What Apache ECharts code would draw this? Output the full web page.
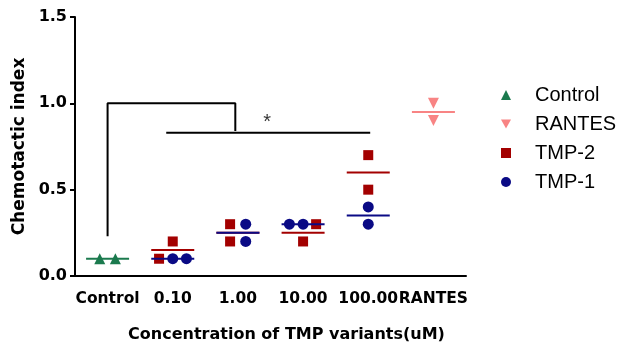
<!DOCTYPE html>
<html>
<head>
<meta charset="utf-8">
<script src="https://cdn.jsdelivr.net/npm/echarts@6/dist/echarts.min.js"></script>
<style>
  html, body { margin: 0; padding: 0; background: #fff; }
  #chart { width: 619px; height: 350px; }
</style>
</head>
<body>
<div id="chart"></div>
<script>
// categories on the x axis
const categories = ["Control", "0.10", "1.00", "10.00", "100.00", "RANTES"]

// points as [category position (with small jitter), chemotactic index]
const controlPoints = [[-0.12, 0.1], [0.12, 0.1]]
const rantesPoints = [[5, 1.0], [5, 0.9]]
const tmp2Points = [[0.79, 0.1], [1, 0.2], [1.88, 0.3], [1.88, 0.2], [3.2, 0.3], [3, 0.2], [4, 0.7], [4, 0.5]]
const tmp1Points = [[1, 0.1], [1.21, 0.1], [2.12, 0.3], [2.12, 0.2], [2.79, 0.3], [3, 0.3], [4, 0.4], [4, 0.3]]

// significance bracket (Control vs 1.00) and bar (0.10 .. 100.00)
const bracketPath = [[0, 0.23], [0, 1.0], [1.96, 1.0], [1.96, 0.84]]
const barPath = [[0.9, 0.83], [4.03, 0.83]]
const starPoint = [[2.45, 0.89]]

const yTicks = [0, 0.5, 1.0, 1.5]

const colors = {
  control: "#1b7a4e",
  rantes: "#f88484",
  tmp2: "#a30000",
  tmp1: "#0a0a85",
}

const chart = echarts.init(document.getElementById("chart"))

// group mean per category
function means(points) {
  const groups = {}
  points.forEach(([x, y]) => {
    const k = Math.round(x)
    if (!groups[k]) groups[k] = []
    groups[k].push(y)
  })
  return Object.keys(groups).map((k) => {
    const vals = groups[k]
    return [Number(k), vals.reduce((a, b) => a + b, 0) / vals.length]
  })
}

const half = 0.33
function meanLine(params, api) {
  const x = api.value(0)
  const y = api.value(1)
  const a = api.coord([x - half, y])
  const b = api.coord([x + half, y])
  return {
    type: "line",
    shape: { x1: a[0], y1: a[1], x2: b[0], y2: b[1] },
    style: { stroke: api.visual("color"), lineWidth: 2 },
  }
}

const downTriangle = "path://M0,0 L10,0 L5,9 Z"
const font = "Liberation Sans, Arial, sans-serif"
const boldFont = "DejaVu Sans, sans-serif"

function scatter(name, data, symbol, color, size) {
  return {
    name: name,
    type: "scatter",
    xAxisIndex: 1,
    data: data,
    symbol: symbol,
    symbolSize: size,
    itemStyle: { color: color, opacity: 1 },
    z: 3,
  }
}

function meanSeries(name, data, color) {
  return {
    name: name,
    type: "custom",
    xAxisIndex: 1,
    data: means(data),
    renderItem: meanLine,
    itemStyle: { color: color },
    encode: { x: 0, y: 1 },
    z: 4,
  }
}

function blackLine(data) {
  return {
    type: "line",
    xAxisIndex: 1,
    data: data,
    symbol: "none",
    lineStyle: { color: "#000", width: 2 },
    silent: true,
    z: 2,
  }
}

const option = {
  backgroundColor: "#fff",
  animation: false,
  textStyle: { fontFamily: font },
  grid: { left: 75, right: 153, top: 17, bottom: 74 },
  legend: {
    data: ["Control", "RANTES", "TMP-2", "TMP-1"],
    orient: "vertical",
    left: 496,
    top: 80,
    itemWidth: 10,
    itemHeight: 10,
    itemGap: 9,
    textStyle: { fontSize: 20, color: "#000", fontFamily: font, padding: [0, 0, 0, 19] },
  },
  xAxis: [
    {
      type: "category",
      data: categories,
      boundaryGap: true,
      axisLine: { onZero: false, lineStyle: { color: "#000", width: 2 } },
      axisTick: { alignWithLabel: true, length: 5, lineStyle: { color: "#000", width: 2 } },
      axisLabel: { color: "#000", fontFamily: boldFont, fontSize: 15.5, fontWeight: "bold", margin: 15, interval: 0 },
      name: "Concentration of TMP variants(uM)",
      nameLocation: "middle",
      nameGap: 51,
      nameTextStyle: { color: "#000", fontFamily: boldFont, fontSize: 16, fontWeight: "bold", padding: [0, 0, 0, 32] },
    },
    {
      type: "value",
      min: -0.5,
      max: 5.5,
      show: false,
    },
  ],
  yAxis: {
    type: "value",
    min: yTicks[0],
    max: yTicks[yTicks.length - 1],
    interval: 0.5,
    axisLine: { show: true, onZero: false, lineStyle: { color: "#000", width: 2 } },
    axisTick: { show: true, length: 5, lineStyle: { color: "#000", width: 2 } },
    splitLine: { show: false },
    axisLabel: {
      color: "#000",
      fontFamily: boldFont,
      fontSize: 16,
      fontWeight: "bold",
      margin: 8,
      formatter: (v) => v.toFixed(1),
    },
    name: "Chemotactic index",
    nameLocation: "middle",
    nameGap: 45,
    nameTextStyle: { color: "#000", fontFamily: boldFont, fontSize: 17, fontWeight: "bold" },
  },
  series: [
    blackLine(bracketPath),
    blackLine(barPath),
    {
      type: "scatter",
      xAxisIndex: 1,
      data: starPoint,
      symbolSize: 0,
      silent: true,
      label: { show: true, position: "inside", formatter: "*", color: "#000", fontSize: 20 },
    },
    scatter("Control", controlPoints, "triangle", colors.control, 11),
    scatter("RANTES", rantesPoints, downTriangle, colors.rantes, 11),
    scatter("TMP-2", tmp2Points, "rect", colors.tmp2, 10),
    scatter("TMP-1", tmp1Points, "circle", colors.tmp1, 11),
    meanSeries("Control mean", controlPoints, colors.control),
    meanSeries("RANTES mean", rantesPoints, colors.rantes),
    meanSeries("TMP-2 mean", tmp2Points, colors.tmp2),
    meanSeries("TMP-1 mean", tmp1Points, colors.tmp1),
  ],
}

chart.setOption(option)
</script>
</body>
</html>
